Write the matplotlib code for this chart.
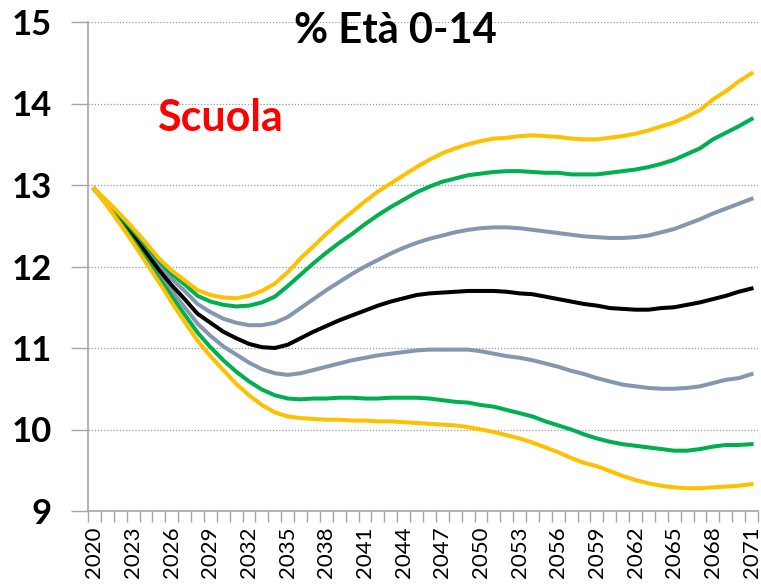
import matplotlib
matplotlib.use('Agg')
from matplotlib import pyplot as plt
import numpy as np

years = list(range(2020, 2072))

yellow_hi = [12.95, 12.80, 12.64, 12.47, 12.29, 12.10, 11.95, 11.83, 11.71, 11.65,
             11.62, 11.61, 11.64, 11.70, 11.79, 11.93, 12.10, 12.25, 12.40, 12.54,
             12.67, 12.80, 12.92, 13.02, 13.12, 13.22, 13.31, 13.39, 13.45, 13.50,
             13.54, 13.57, 13.58, 13.60, 13.61, 13.60, 13.59, 13.57, 13.56, 13.56,
             13.58, 13.60, 13.63, 13.67, 13.72, 13.77, 13.84, 13.92, 14.05, 14.15,
             14.27, 14.37]
green_hi = [12.95, 12.79, 12.62, 12.44, 12.26, 12.07, 11.91, 11.78, 11.64, 11.57,
            11.53, 11.51, 11.52, 11.56, 11.63, 11.76, 11.90, 12.04, 12.17, 12.29,
            12.40, 12.52, 12.63, 12.73, 12.82, 12.91, 12.98, 13.04, 13.08, 13.12,
            13.14, 13.16, 13.17, 13.17, 13.16, 13.15, 13.15, 13.13, 13.13, 13.13,
            13.15, 13.17, 13.19, 13.22, 13.26, 13.31, 13.38, 13.45, 13.56, 13.64,
            13.72, 13.81]
grey_hi = [12.95, 12.78, 12.60, 12.41, 12.22, 12.03, 11.85, 11.70, 11.54, 11.44,
           11.36, 11.31, 11.28, 11.28, 11.31, 11.38, 11.49, 11.60, 11.71, 11.81,
           11.91, 12.00, 12.08, 12.16, 12.23, 12.29, 12.34, 12.38, 12.42, 12.45,
           12.47, 12.48, 12.48, 12.47, 12.45, 12.43, 12.41, 12.39, 12.37, 12.36,
           12.35, 12.35, 12.36, 12.38, 12.42, 12.46, 12.52, 12.58, 12.65, 12.71,
           12.77, 12.83]
central = [12.95, 12.77, 12.58, 12.38, 12.17, 11.96, 11.77, 11.60, 11.42, 11.31,
           11.20, 11.12, 11.05, 11.01, 11.00, 11.04, 11.12, 11.20, 11.27, 11.34,
           11.40, 11.46, 11.52, 11.57, 11.61, 11.65, 11.67, 11.68, 11.69, 11.70,
           11.70, 11.70, 11.69, 11.67, 11.66, 11.63, 11.60, 11.57, 11.54, 11.52,
           11.49, 11.48, 11.47, 11.47, 11.49, 11.50, 11.53, 11.56, 11.60, 11.64,
           11.69, 11.73]
grey_lo = [12.95, 12.76, 12.56, 12.35, 12.13, 11.91, 11.70, 11.50, 11.30, 11.15,
           11.02, 10.92, 10.82, 10.74, 10.69, 10.67, 10.69, 10.73, 10.77, 10.81,
           10.85, 10.88, 10.91, 10.93, 10.95, 10.97, 10.98, 10.98, 10.98, 10.98,
           10.96, 10.93, 10.90, 10.88, 10.85, 10.81, 10.77, 10.72, 10.68, 10.63,
           10.59, 10.55, 10.53, 10.51, 10.50, 10.50, 10.51, 10.53, 10.57, 10.61,
           10.63, 10.68]
green_lo = [12.95, 12.75, 12.54, 12.32, 12.09, 11.86, 11.63, 11.41, 11.19, 11.01,
            10.85, 10.71, 10.59, 10.49, 10.42, 10.38, 10.37, 10.38, 10.38, 10.39,
            10.39, 10.38, 10.38, 10.39, 10.39, 10.39, 10.38, 10.36, 10.34, 10.33,
            10.30, 10.28, 10.24, 10.20, 10.16, 10.10, 10.05, 10.00, 9.94, 9.89,
            9.85, 9.82, 9.80, 9.78, 9.76, 9.74, 9.74, 9.76, 9.79, 9.81,
            9.81, 9.82]
yellow_lo = [12.95, 12.74, 12.52, 12.29, 12.05, 11.81, 11.56, 11.32, 11.09, 10.90,
             10.73, 10.56, 10.42, 10.30, 10.21, 10.16, 10.14, 10.13, 10.12, 10.12,
             10.11, 10.11, 10.10, 10.10, 10.09, 10.08, 10.07, 10.06, 10.05, 10.03,
             10.00, 9.97, 9.93, 9.89, 9.84, 9.78, 9.72, 9.65, 9.59, 9.55,
             9.49, 9.43, 9.38, 9.34, 9.31, 9.29, 9.28, 9.28, 9.29, 9.30,
             9.31, 9.33]

YELLOW = '#FFC000'
GREEN = '#00B050'
GREY = '#8497B0'
AXIS = '#A6A6A6'

fig = plt.figure(figsize=(7.61, 5.87), dpi=100)
ax = fig.add_axes([88 / 761, 1 - 511 / 587, 670 / 761, 489 / 587])

lw = 2.9
ax.plot(years, grey_lo, color=GREY, lw=lw)
ax.plot(years, grey_hi, color=GREY, lw=lw)
ax.plot(years, central, color='black', lw=lw)
ax.plot(years, green_lo, color=GREEN, lw=lw)
ax.plot(years, green_hi, color=GREEN, lw=lw)
ax.plot(years, yellow_lo, color=YELLOW, lw=lw)
ax.plot(years, yellow_hi, color=YELLOW, lw=lw)

ax.set_xlim(2019.5, 2071.5)
ax.set_ylim(9, 15)

# labels every 3 years, tick marks between the years
ax.set_xticks(years[::3])
ax.set_xticklabels([str(y) for y in years[::3]], rotation=90,
                   fontsize=16, family='Lato')
ax.set_xticks(np.arange(2019.5, 2072, 1), minor=True)
ax.tick_params(axis='x', which='major', length=0, pad=11)
ax.tick_params(axis='x', which='minor', length=8, width=1, color=AXIS)

ax.set_yticks(range(9, 16))
ax.set_yticklabels([str(v) for v in range(9, 16)], fontsize=25,
                   fontweight='bold', family='Lato')
ax.tick_params(axis='y', length=12, width=1, color=AXIS, pad=14)

ax.grid(axis='y', color='#999999', linestyle=(0, (1, 1.5)), lw=0.9)
ax.set_axisbelow(True)
for s in ['top', 'right']:
    ax.spines[s].set_visible(False)
for s in ['left', 'bottom']:
    ax.spines[s].set_color(AXIS)
    ax.spines[s].set_linewidth(1.2)

fig.text(395 / 761, 1 - 31 / 587, '% Età 0-14', ha='center', va='center',
         fontsize=30, fontweight='bold', family='Lato')
ax.text(2029.7, 13.82, 'Scuola', ha='center', va='center', color='#FF0000',
        fontsize=31, fontweight='bold', family='Lato')

fig.savefig('out.png', dpi=100)
